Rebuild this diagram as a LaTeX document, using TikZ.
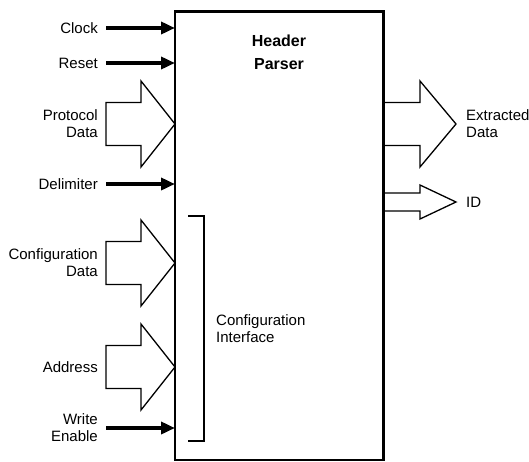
\documentclass[tikz,border=0pt]{standalone}
\usepackage{fontspec}
\setmainfont{Liberation Sans}
\usetikzlibrary{arrows.meta}
\begin{document}
\begin{tikzpicture}[x=1pt,y=-1pt,
  lbl/.style={font=\fontsize{15}{17}\selectfont, inner sep=0pt},
  sig/.style={line width=4pt, -{Triangle[length=14pt,width=12pt]}},
  fat/.style={line width=1.3pt, line join=miter},
  box/.style={draw, line width=2.7pt, inner sep=0pt, outer sep=0pt},
  brk/.style={line width=1.5pt}]
\useasboundingbox (0,0) rectangle (529,461);
\node[box, minimum width=208.5pt, minimum height=448.5pt] (hp) at (279.25,235.75) {};
\node[font=\bfseries\fontsize{16}{23}\selectfont, align=center, inner sep=0pt] (hdr) at (279,52) {Header\\Parser};
% left labels
\node[lbl, anchor=east] (clk) at (98,28) {Clock};
\node[lbl, anchor=east] (rst) at (98,63) {Reset};
\node[lbl, anchor=east, align=right] (pd) at (98,124) {Protocol\\Data};
\node[lbl, anchor=east] (dl) at (98,184) {Delimiter};
\node[lbl, anchor=east, align=right] (cd) at (98,263) {Configuration\\Data};
\node[lbl, anchor=east] (ad) at (98,367) {Address};
\node[lbl, anchor=east, align=right] (we) at (98,428) {Write\\Enable};
% right labels
\node[lbl, anchor=west, align=left] (ed) at (466,124) {Extracted\\Data};
\node[lbl, anchor=west] (id) at (466,202) {ID};
\node[lbl, anchor=west, align=left] (ci) at (216,329) {Configuration\\Interface};
% thin arrows
\draw[sig] ([xshift=8pt]clk.east) -- (clk.east -| hp.west);
\draw[sig] ([xshift=8pt]rst.east) -- (rst.east -| hp.west);
\draw[sig] ([xshift=8pt]dl.east) -- (dl.east -| hp.west);
\draw[sig] ([xshift=8pt]we.east) -- (we.east -| hp.west);
% fat input arrows
\coordinate (pdtip) at (pd.east -| hp.west);
\coordinate (cdtip) at (cd.east -| hp.west);
\coordinate (adtip) at (ad.east -| hp.west);
\foreach \t in {pdtip,cdtip,adtip}
  \draw[fat] (\t) -- ++(-34,-43) -- ++(0,21.5) -- ++(-35,0) -- ++(0,43) -- ++(35,0) -- ++(0,21.5) -- cycle;
% fat output arrows
\coordinate (edtip) at ([xshift=-10pt]ed.west);
\coordinate (idtip) at ([xshift=-10pt]id.west);
\draw[fat] (edtip) -- ++(-36,-43) -- ++(0,21.5) -- ++(-37,0) -- ++(0,43) -- ++(37,0) -- ++(0,21.5) -- cycle;
\draw[fat] (idtip) -- ++(-36,-17) -- ++(0,8) -- ++(-37,0) -- ++(0,18) -- ++(37,0) -- ++(0,8) -- cycle;
% bracket
\coordinate (b1) at (188,216);
\coordinate (b2) at (188,441);
\draw[brk] (b1) -- ++(16,0) -- ++(0,225) -- (b2);
\end{tikzpicture}
\end{document}
